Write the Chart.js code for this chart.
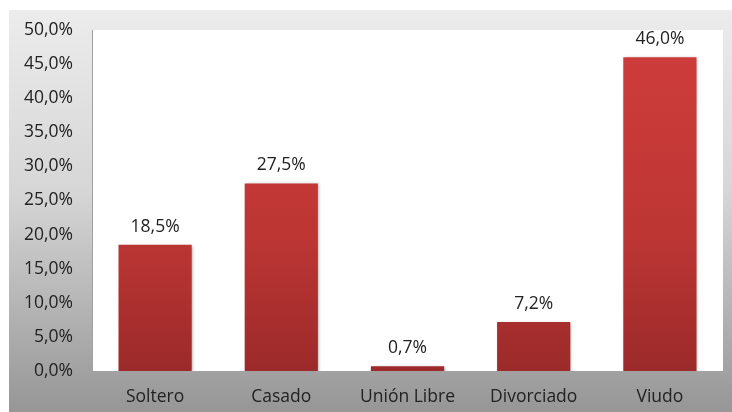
<!DOCTYPE html>
<html>
<head>
<meta charset="utf-8">
<script src="https://cdn.jsdelivr.net/npm/chart.js@4/dist/chart.umd.min.js"></script>
<style>
    html, body { margin: 0; padding: 0; background: #ffffff; }
    #wrap { width: 732px; height: 412px; }
</style>
</head>
<body>
<div id="wrap"><canvas id="estadoChart"></canvas></div>
<script>
const categories = ['Soltero', 'Casado', 'Unión Libre', 'Divorciado', 'Viudo'];
const percentages = [18.5, 27.5, 0.7, 7.2, 46.0];
const yTicks = [0, 5, 10, 15, 20, 25, 30, 35, 40, 45, 50];

function formatPct(num) {
    return num.toFixed(1).replace('.', ',') + '%';
}

const fontFamily = "'Open Sans', 'Noto Sans', sans-serif";
const fontSize = 17.5;
const textColor = '#222222';

// gray frame behind the white plot area
const framePlugin = {
    id: 'frame',
    beforeDraw(chart) {
        const { ctx, chartArea } = chart;
        const g = ctx.createLinearGradient(0, 10, 0, chart.height);
        g.addColorStop(0, '#ececec');
        g.addColorStop(0.45, '#d6d6d6');
        g.addColorStop(1, '#969696');
        ctx.save();
        ctx.fillStyle = g;
        ctx.fillRect(9, 10, chart.width - 9, chart.height - 10);
        ctx.fillStyle = '#ffffff';
        ctx.fillRect(chartArea.left, chartArea.top, chartArea.right - chartArea.left, chartArea.bottom - chartArea.top);
        ctx.restore();
    }
};

const shadowPlugin = {
    id: 'barShadow',
    beforeDatasetDraw(chart) {
        const ctx = chart.ctx;
        ctx.save();
        ctx.shadowColor = 'rgba(0, 0, 0, 0.35)';
        ctx.shadowBlur = 3;
        ctx.shadowOffsetX = 1;
        ctx.shadowOffsetY = 1;
    },
    afterDatasetDraw(chart) {
        chart.ctx.restore();
    }
};

const labelPlugin = {
    id: 'valueLabels',
    afterDatasetsDraw(chart) {
        const { ctx } = chart;
        const meta = chart.getDatasetMeta(0);
        ctx.save();
        ctx.font = `${fontSize}px ${fontFamily}`;
        ctx.fillStyle = textColor;
        ctx.textAlign = 'center';
        ctx.textBaseline = 'alphabetic';
        meta.data.forEach((bar, i) => {
            ctx.fillText(formatPct(percentages[i]), bar.x, bar.y - 13);
        });
        ctx.restore();
    }
};

const ctx = document.getElementById('estadoChart').getContext('2d');
new Chart(ctx, {
    type: 'bar',
    data: {
        labels: categories,
        datasets: [{
            data: percentages,
            backgroundColor(c) {
                const area = c.chart.chartArea;
                if (!area) return '#c33b39';
                const g = c.chart.ctx.createLinearGradient(0, area.top, 0, area.bottom);
                g.addColorStop(0, '#cf3d3b');
                g.addColorStop(0.6, '#bd3634');
                g.addColorStop(1, '#9c2a2a');
                return g;
            },
            borderWidth: 0,
            categoryPercentage: 1,
            barPercentage: 0.58
        }]
    },
    options: {
        responsive: true,
        maintainAspectRatio: false,
        animation: false,
        layout: { padding: { top: 30, right: 9, bottom: 0, left: 0 } },
        plugins: {
            legend: { display: false },
            tooltip: { enabled: false }
        },
        scales: {
            y: {
                min: 0,
                max: 50,
                afterFit(s) { s.width = 92; },
                afterBuildTicks(s) { s.ticks = yTicks.map(v => ({ value: v })); },
                grid: { display: false, drawTicks: false },
                border: { display: true, color: '#a0a0a0', width: 1 },
                ticks: {
                    padding: 19,
                    color: textColor,
                    font: { family: fontFamily, size: fontSize },
                    callback: v => formatPct(v)
                }
            },
            x: {
                afterFit(s) { s.height = 41; },
                grid: { display: false, drawTicks: false },
                border: { display: false },
                ticks: {
                    padding: 16,
                    color: textColor,
                    font: { family: fontFamily, size: fontSize }
                }
            }
        }
    },
    plugins: [framePlugin, shadowPlugin, labelPlugin]
});
</script>
</body>
</html>
